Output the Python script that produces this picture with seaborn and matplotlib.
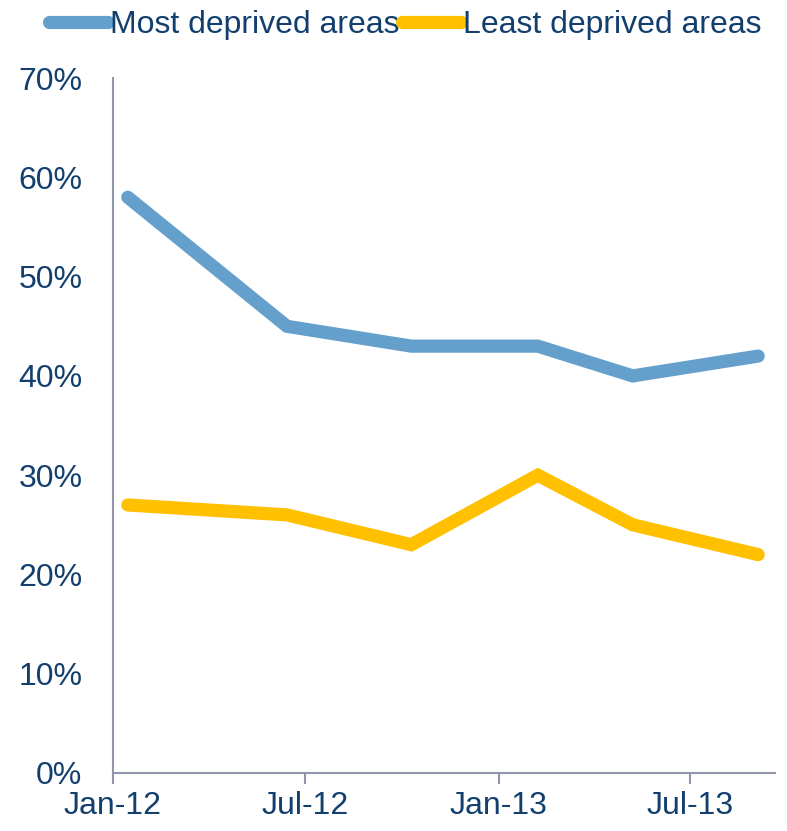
import pandas as pd
import matplotlib.pyplot as plt
import seaborn as sns
from matplotlib.ticker import FuncFormatter

# ---------- data ----------
dates = ["2012-01-15", "2012-06-14", "2012-10-10", "2013-02-07", "2013-05-08", "2013-09-04"]
most_deprived = [58, 45, 43, 43, 40, 42]
least_deprived = [27, 26, 23, 30, 25, 22]
series_names = ["Most deprived areas", "Least deprived areas"]
tick_dates = ["2012-01-01", "2012-07-01", "2013-01-01", "2013-07-01"]
tick_labels = ["Jan-12", "Jul-12", "Jan-13", "Jul-13"]

df = pd.DataFrame({
    "date": pd.to_datetime(dates * 2),
    "value": most_deprived + least_deprived,
    "series": [series_names[0]] * len(dates) + [series_names[1]] * len(dates),
})

# ---------- style ----------
sns.set_style("white")
plt.rcParams["font.family"] = ["Liberation Sans", "DejaVu Sans"]
text_col = "#123F6E"
axis_col = "#8F96AA"
palette = {series_names[0]: "#64A0CB", series_names[1]: "#FFC000"}
lw = 9.5
fs = 23

fig = plt.figure(figsize=(7.87, 8.31), dpi=100)
ax = fig.add_axes([0.1436, 0.0698, 0.8412, 0.8362])

sns.lineplot(data=df, x="date", y="value", hue="series", palette=palette,
             linewidth=lw, ax=ax, legend=False, solid_capstyle="round",
             solid_joinstyle="miter")

ax.set_ylim(0, 70)
ax.set_yticks(range(0, 71, 10))
ax.yaxis.set_major_formatter(FuncFormatter(lambda v, p: f"{v:.0f}%"))
ax.set_xlim(pd.Timestamp("2012-01-01"), pd.Timestamp("2013-09-20"))
ax.set_xticks(pd.to_datetime(tick_dates))
ax.set_xticklabels(tick_labels)
ax.set_xlabel("")
ax.set_ylabel("")

for side in ["top", "right"]:
    ax.spines[side].set_visible(False)
for side in ["left", "bottom"]:
    ax.spines[side].set_color(axis_col)
    ax.spines[side].set_linewidth(1.5)

ax.tick_params(axis="x", colors=text_col, labelsize=fs, length=8, width=1.5,
               direction="out", color=axis_col, pad=5, bottom=True)
ax.tick_params(axis="y", colors=text_col, labelsize=fs, length=0, pad=22)

# legend at top
handles = [plt.Line2D([], [], color=palette[n], linewidth=lw, solid_capstyle="round")
           for n in series_names]
fig.legend(handles, series_names, loc="upper center", bbox_to_anchor=(0.515, 1.022),
           ncol=2, frameon=False, fontsize=fs, handlelength=1.85, handletextpad=0.05,
           columnspacing=0.1, labelcolor=text_col)

fig.savefig("out.png", dpi=100)
